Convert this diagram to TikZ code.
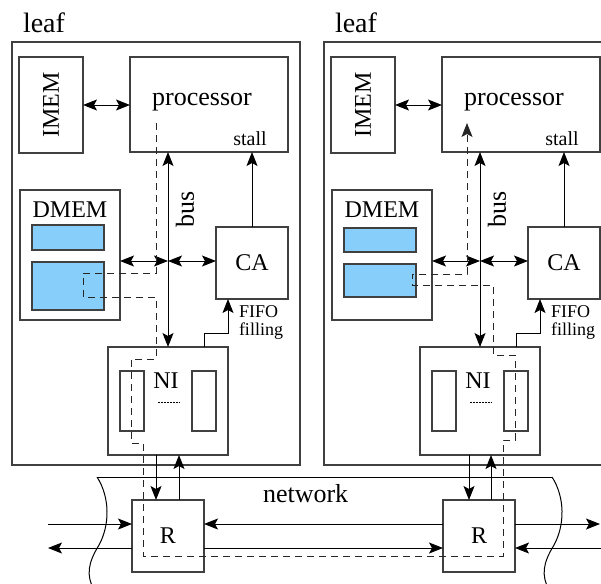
\documentclass[tikz,border=0pt]{standalone}
\usepackage{fontspec}
\setmainfont{Liberation Serif}
\usetikzlibrary{arrows.meta,calc}
\definecolor{lineg}{RGB}{64,64,64}
\definecolor{memblue}{RGB}{135,206,250}
\newcommand\fsLeaf{\fontsize{28}{30}\selectfont}
\newcommand\fsBig{\fontsize{26}{28}\selectfont}
\newcommand\fsMid{\fontsize{24}{26}\selectfont}
\newcommand\fsSmall{\fontsize{20}{22}\selectfont}
\newcommand\fsFifo{\fontsize{18}{17.5}\selectfont}
\tikzset{
  >={Stealth[length=14pt,width=11pt,inset=3pt]},
  box/.style={draw=lineg, line width=1.2pt, inner sep=0pt, outer sep=0pt, rectangle},
  membox/.style={box, fill=memblue},
  conn/.style={draw=black, line width=1pt},
  dashpath/.style={draw=black!85, line width=1pt, dash pattern=on 7pt off 5pt},
  lbl/.style={inner sep=0pt, outer sep=0pt},
}
\newcommand\leafbody{%
  \node[box, minimum width=288pt, minimum height=423pt] (leaf) at (156,253.5) {};
  \node[lbl, font=\fsLeaf, anchor=base west] (leaflbl) at (23,33) {leaf};
  \node[box, minimum width=64pt, minimum height=96pt] (imem) at (51,105) {};
  \node[lbl, font=\fsMid, rotate=90] (imemlbl) at (imem) {IMEM};
  \node[box, minimum width=158pt, minimum height=95pt] (proc) at (209,104.5) {};
  \node[lbl, font=\fsBig, anchor=base] (proclbl) at (202,105) {processor};
  \node[lbl, font=\fsSmall, anchor=base] (stalllbl) at (250,145) {stall};
  \node[box, minimum width=100pt, minimum height=130pt] (dmem) at (70,255) {};
  \node[lbl, font=\fsMid, anchor=base] (dmemlbl) at (70,217) {DMEM};
  \node[box, minimum size=72pt] (ca) at (252,263) {};
  \node[lbl, font=\fsMid] (calbl) at (ca) {CA};
  \node[box, minimum width=120pt, minimum height=108pt] (ni) at (168,401) {};
  \node[box, minimum width=24pt, minimum height=60pt] (nia) at (132,401) {};
  \node[box, minimum width=24pt, minimum height=60pt] (nib) at (204,401) {};
  \node[lbl, font=\fsMid, anchor=base] (nilbl) at (166,388) {NI};
  \coordinate (dota) at (158,402);
  \coordinate (dotb) at (180,402);
  \draw[draw=black, line width=0.8pt, dash pattern=on 1.5pt off 1.5pt] (dota) -- (dotb);
  \node[lbl, font=\fsFifo, anchor=north west, align=left] (fifolbl) at (239,306) {FIFO\\filling};
  \node[lbl, font=\fsBig, rotate=90] (buslbl) at (185,209) {bus};
  \coordinate (busx) at (168,0);
  \coordinate (stallx) at (252,0);
  \coordinate (memy) at (0,261);
  \coordinate (fifox) at (204,0);
  \coordinate (fifoa) at (204,333);
  \coordinate (fifob) at (228,333);
  \draw[conn,<->] (imem.east) -- (imem.east -| proc.west);
  \draw[conn,<->] (busx |- proc.south) -- (busx |- ni.north);
  \draw[conn,->] (stallx |- ca.north) -- (stallx |- proc.south);
  \draw[conn,<->] (dmem.east |- memy) -- (busx |- memy);
  \draw[conn,<->] (busx |- memy) -- (ca.west |- memy);
  \draw[conn,->] (fifox |- ni.north) -- (fifoa) -- (fifob) -- (fifob |- ca.south);
}
\begin{document}
\begin{tikzpicture}[x=1pt,y=-1pt]
\path[use as bounding box] (0,0) rectangle (601,583);
\clip (0,0) rectangle (601,583);
\begin{scope}[name prefix=l]
  \leafbody
  \node[membox, minimum width=72pt, minimum height=25pt] (mema) at (68,237.5) {};
  \node[membox, minimum width=72pt, minimum height=48pt] (memb) at (68,286) {};
\end{scope}
\begin{scope}[xshift=312pt, name prefix=r]
  \leafbody
  \node[membox, minimum width=72pt, minimum height=24pt] (mema) at (68,240) {};
  \node[membox, minimum width=72pt, minimum height=33pt] (memb) at (68,280.5) {};
\end{scope}
% network
\coordinate (nwl) at (97,477);
\coordinate (nwr) at (552,477);
\draw[conn] (nwl) -- (nwr);
\draw[conn] (nwl) .. controls (110,497) and (110,525) .. (99,545) .. controls (88,563) and (86,575) .. (94,590);
\draw[conn] (nwr) .. controls (565,497) and (565,525) .. (554,545) .. controls (543,563) and (541,575) .. (549,590);
\node[lbl, font=\fsBig, anchor=base west] (netlbl) at (263,502) {network};
\node[box, minimum size=72pt] (RL) at (168,536) {};
\node[lbl, font=\fsMid] (RLl) at (RL) {R};
\node[box, minimum size=72pt] (RR) at (479,536) {};
\node[lbl, font=\fsMid] (RRl) at (RR) {R};
\coordinate (ea) at (48,524);
\coordinate (eb) at (48,548);
\coordinate (fa) at (600,524);
\coordinate (fb) at (603,548);
\draw[conn,->] (ea) -- (ea -| RL.west);
\draw[conn,->] (RL.west |- eb) -- (eb);
\draw[conn,->] (RR.west |- ea) -- (RL.east |- ea);
\draw[conn,->] (RL.east |- eb) -- (RR.west |- eb);
\draw[conn,->] (RR.east |- fa) -- (fa);
\draw[conn,->] (fb) -- (RR.east |- fb);
% NI <-> R
\coordinate (dnl) at (156,0);
\coordinate (upl) at (179,0);
\coordinate (dnr) at (469,0);
\coordinate (upr) at (491,0);
\draw[conn,->] (dnl |- lni.south) -- (dnl |- RL.north);
\draw[conn,->] (upl |- RL.north) -- (upl |- lni.south);
\draw[conn,->] (dnr |- rni.south) -- (dnr |- RR.north);
\draw[conn,->] (upr |- RR.north) -- (upr |- rni.south);
% dashed data path
\coordinate (ds) at (156,123);
\coordinate (de) at (467,123);
\draw[dashpath,->] (ds) -- (156,273) -- (83,273) -- (83,297) -- (156,297) -- (156,359)
  -- (131,359) -- (131,443) -- (143,443) -- (143,556) -- (503,556) -- (503,440)
  -- (515,440) -- (515,355) -- (493,355) -- (493,285) -- (412,285) -- (412,274)
  -- (467,274) -- (de);
\end{tikzpicture}
\end{document}
